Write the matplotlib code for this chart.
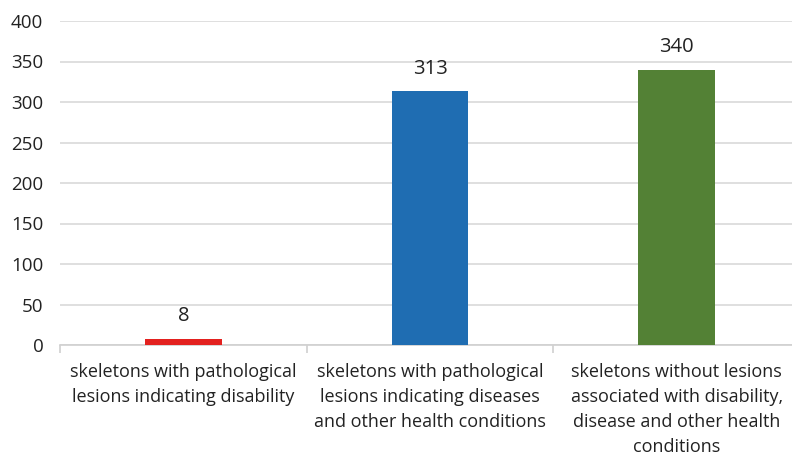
import matplotlib
matplotlib.use('Agg')
import matplotlib.pyplot as plt
import numpy as np

# Chart data
categories = [
    'skeletons with pathological\nlesions indicating disability',
    'skeletons with pathological\nlesions indicating diseases\nand other health conditions',
    'skeletons without lesions\nassociated with disability,\ndisease and other health\nconditions',
]
values = [8, 313, 340]
colors = ['#e3211f', '#1f6db2', '#538135']
yticks = [0, 50, 100, 150, 200, 250, 300, 350, 400]

plt.rcParams['font.family'] = ['Open Sans', 'DejaVu Sans']

fig = plt.figure(figsize=(7.92, 4.53), dpi=100)
# plot area runs a little past the right edge, like the source
ax = fig.add_axes([60 / 792, 1 - 345 / 453, 740 / 792, 324 / 453])

x = np.arange(len(values))
bars = ax.bar(x, values, width=0.31, color=colors, zorder=3)

for xi, v in zip(x, values):
    ax.annotate(str(v), (xi, v), xytext=(0, 9), textcoords='offset points',
                ha='center', va='bottom', fontsize=14.5, color='#222222')

ax.set_xlim(-0.5, len(values) - 0.5)
ax.set_ylim(0, 400)
ax.set_yticks(yticks)
ax.tick_params(axis='y', length=0, labelsize=13.5, labelcolor='#222222', pad=12)
ax.yaxis.grid(True, color='#d9d9d9', linewidth=1.2, zorder=0)

ax.set_xticks(x)
ax.set_xticklabels(categories, fontsize=13, color='#222222', linespacing=1.5)
ax.tick_params(axis='x', which='major', length=0, pad=13)
ax.set_xticks(np.arange(-0.5, len(values)), minor=True)
ax.tick_params(axis='x', which='minor', length=6, color='#d0d0d0', width=1.2)

for s in ['top', 'right', 'left']:
    ax.spines[s].set_visible(False)
ax.spines['bottom'].set_color('#d0d0d0')
ax.spines['bottom'].set_linewidth(1.2)

fig.savefig('out.png', dpi=100)
